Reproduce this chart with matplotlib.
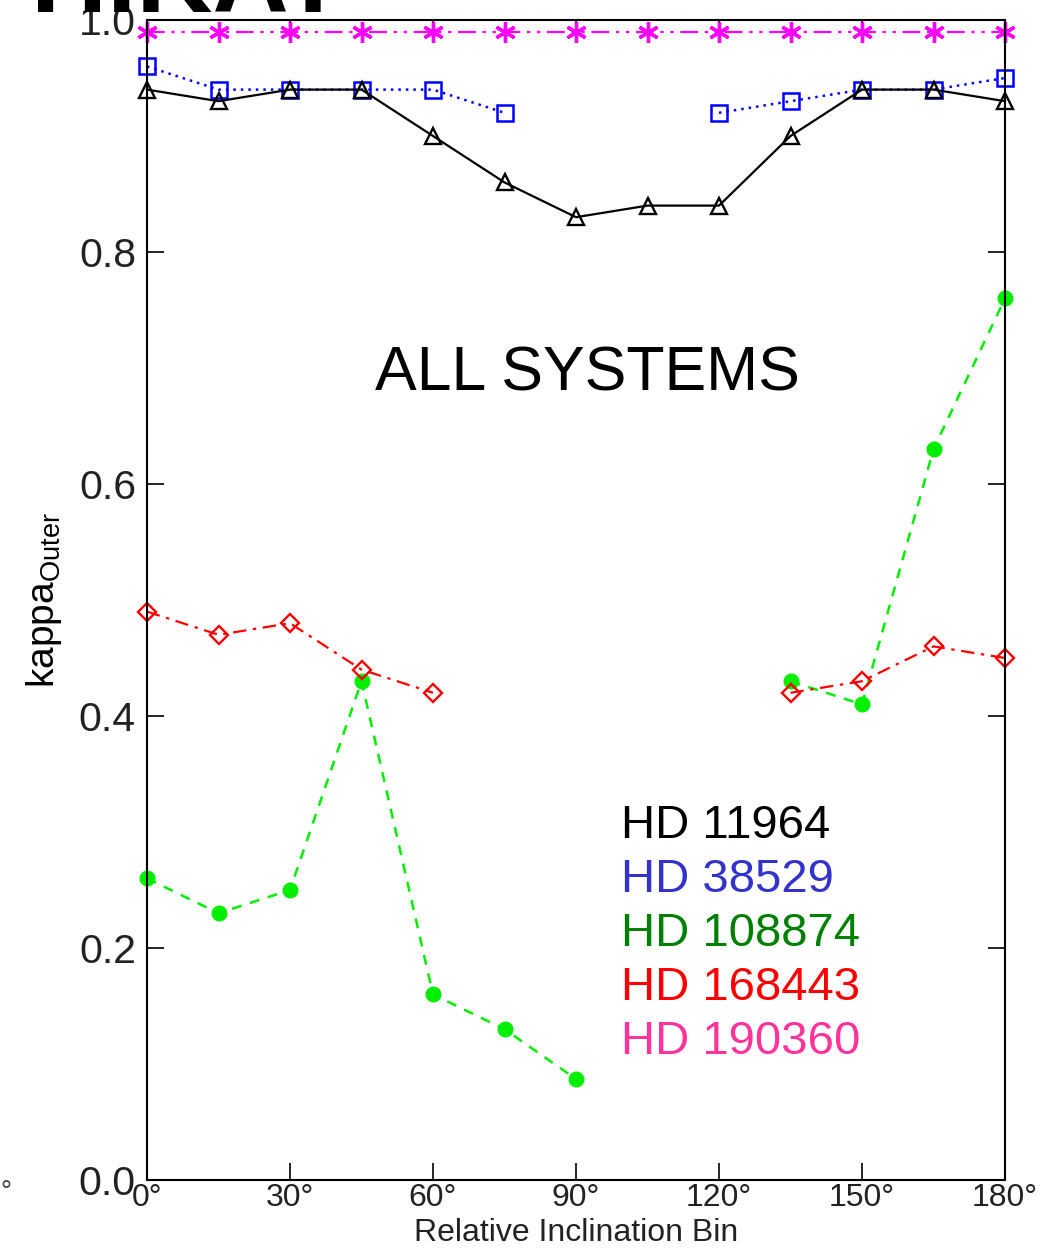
import numpy as np
import matplotlib.pyplot as plt
from matplotlib import font_manager

plt.rcParams['font.family'] = ['Liberation Sans', 'DejaVu Sans']

# inclination bins (degrees)
bins = [0, 15, 30, 45, 60, 75, 90, 105, 120, 135, 150, 165, 180]

# kappa_outer per system, nan where there is no value for the bin
hd11964 = [0.94, 0.93, 0.94, 0.94, 0.90, 0.86, 0.83, 0.84, 0.84, 0.90, 0.94, 0.94, 0.93]
hd38529 = [0.96, 0.94, 0.94, 0.94, 0.94, 0.92, np.nan, np.nan, 0.92, 0.93, 0.94, 0.94, 0.95]
hd108874 = [0.26, 0.23, 0.25, 0.43, 0.16, 0.13, 0.087, np.nan, np.nan, 0.43, 0.41, 0.63, 0.76]
hd168443 = [0.49, 0.47, 0.48, 0.44, 0.42, np.nan, np.nan, np.nan, np.nan, 0.42, 0.43, 0.46, 0.45]
hd190360 = [0.99] * 13

names = ['HD 11964', 'HD 38529', 'HD 108874', 'HD 168443', 'HD 190360']
name_colors = ['black', '#3333CC', '#008000', '#FF0000', '#FF3399']

xticks = [0, 30, 60, 90, 120, 150, 180]
yticks = [0.0, 0.2, 0.4, 0.6, 0.8, 1.0]

# narrow face for the x axis if one is around
installed = {f.name for f in font_manager.fontManager.ttflist}
narrow = [n for n in ['Liberation Sans Narrow', 'DejaVu Sans Condensed'] if n in installed]
narrow = narrow + ['Liberation Sans']

fig = plt.figure(figsize=(10.44, 12.51), dpi=100)
ax = fig.add_axes([147/1044, 1 - 1180/1251, 858/1044, 1160/1251])

ax.plot(bins, hd190360, color='#FF00FF', lw=1.6, ls=(0, (8, 3, 1.5, 3, 1.5, 3)),
        marker=(6, 2, 0), ms=15, mew=2.4, clip_on=False)
ax.plot(bins, hd38529, color='#0000FF', lw=1.8, ls=(0, (1, 2)),
        marker='s', ms=12, mfc='none', mew=1.8, clip_on=False)
ax.plot(bins, hd11964, color='black', lw=1.6, ls='-',
        marker='^', ms=12, mfc='none', mew=1.7, clip_on=False)
ax.plot(bins, hd108874, color='#00EE00', lw=1.8, ls=(0, (4, 3.5)),
        marker='o', ms=10.5, clip_on=False)
ax.plot(bins, hd168443, color='#FF0000', lw=1.6, ls=(0, (6, 3, 1.5, 3)),
        marker='D', ms=9, mfc='none', mew=1.7, clip_on=False)

ax.set_xlim(0, 180)
ax.set_ylim(0, 1.0)
ax.set_xticks(xticks)
ax.set_xticklabels([f'{v}°' for v in xticks], family=narrow, fontsize=23, color='#222222')
ax.set_yticks(yticks)
ax.set_yticklabels([f'{v:.1f}' for v in yticks], fontsize=29.5, color='#222222')
ax.tick_params(direction='in', length=12, width=1.2, top=True, right=True)
ax.tick_params(axis='x', pad=2)
ax.tick_params(axis='y', pad=8)
for s in ax.spines.values():
    s.set_linewidth(1.5)

ax.set_xlabel('Relative Inclination Bin', family=narrow, fontsize=23, color='#222222', labelpad=4)
ax.set_ylabel(r'kappa$_{\mathregular{Outer}}$', fontsize=28)
ax.yaxis.set_label_coords(-0.097, 0.5)

ax.text(92.5, 0.695, 'ALL SYSTEMS', fontsize=45, ha='center', va='center')
for i, (n, c) in enumerate(zip(names, name_colors)):
    ax.text(99.5, 0.305 - i * 0.0465, n, color=c, fontsize=34, ha='left', va='center')

# heading cut off at the top edge
fig.text(0.03, 1 - 12/1251, 'HIKAT', fontsize=76, fontweight='bold', va='baseline')
fig.text(0.0, 1 - 1200/1251, '°', fontsize=20, color='#444444')

fig.savefig('out.png', dpi=100)
